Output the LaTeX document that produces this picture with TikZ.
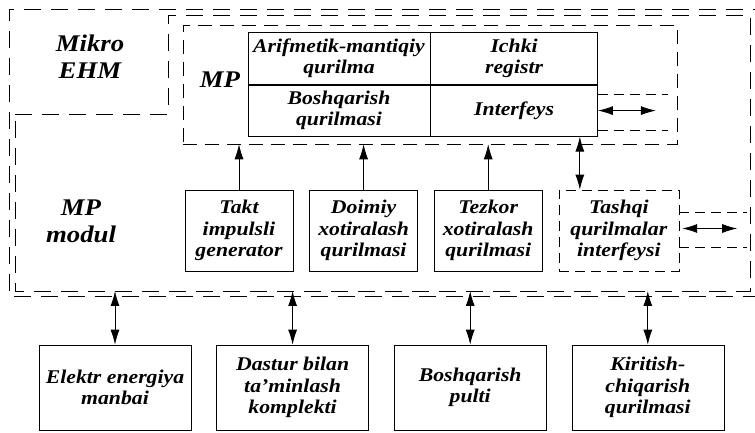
\documentclass[tikz,border=0pt]{standalone}
\usepackage{fontspec}
\setmainfont{Liberation Serif}[FakeStretch=1.12]
\usetikzlibrary{arrows.meta, positioning}

\newcommand{\boxfont}{\fontsize{19.5}{21.5}\selectfont\bfseries\itshape}
\newcommand{\lblfont}{\fontsize{24}{27}\selectfont\bfseries\itshape}

\begin{document}
\begin{tikzpicture}[
    x=1bp, y=-1bp,
    node distance=16bp and 16bp,
    box/.style={draw, line width=0.6pt, minimum width=108bp, minimum height=81bp, inner sep=1bp, align=center, font=\boxfont},
    cell/.style={draw, line width=0.6pt, minimum height=51.5bp, inner sep=1bp, align=center, font=\boxfont},
    ext/.style={box, minimum width=152bp, minimum height=85bp},
    lbl/.style={align=center, font=\lblfont, inner sep=0pt},
    dline/.style={line width=0.75pt, dash pattern=on 17bp off 10bp},
    sline/.style={line width=0.7pt, dash pattern=on 10bp off 6bp},
    arrow/.style={-{Latex[length=15bp, width=9bp]}, line width=0.7pt},
    darrow/.style={{Latex[length=15bp, width=9bp]}-{Latex[length=15bp, width=9bp]}, line width=0.9pt}
]
    \useasboundingbox (0,0) rectangle (755,433);

    % Mikro EHM and MP modul outlines
    \draw[dline] (770,9) -- (9,9) -- (9,296) -- (770,296);
    \draw[dline] (15,114) -- (168,114) -- (168,15) -- (750,15) -- (750,291) -- (15,291) -- cycle;
    \coordinate (modbot) at (0,291);

    \node[lbl] (mikro) at (90,57) {Mikro\\EHM};
    \node[lbl] (mpmod) at (81,221) {MP\\modul};

    % MP
    \node[draw, sline, dash pattern=on 14bp off 8bp, minimum width=494bp, minimum height=119bp] (mp) at (430,84.5) {};
    \node[lbl] (mplbl) at (220,80) {MP};
    \node[cell, minimum width=182bp] (alu) at (339,58.5) {Arifmetik-mantiqiy\\qurilma};
    \node[cell, minimum width=167bp, right=0bp of alu] (reg) {Ichki\\registr};
    \node[cell, minimum width=182bp, below=0bp of alu] (ctrl) {Boshqarish\\qurilmasi};
    \node[cell, minimum width=167bp, below=0bp of reg] (intf) {Interfeys};

    \draw[sline] ([yshift=-10bp]intf.north east) -- ++(70,0);
    \draw[sline] ([yshift=6bp]intf.south east) -- ++(70,0);
    \draw[darrow] (intf.east) -- ++(58,0);

    % MP modul ichidagi bloklar
    \node[box] (takt) at (239,230.5) {Takt\\impulsli\\generator};
    \node[box, right=of takt] (doimiy) {Doimiy\\xotiralash\\qurilmasi};
    \node[box, right=of doimiy] (tezkor) {Tezkor\\xotiralash\\qurilmasi};
    \node[box, sline, minimum width=120bp, right=of tezkor] (tashqi) {Tashqi\\qurilmalar\\interfeysi};

    \draw[sline] ([yshift=18bp]tashqi.east) -- ++(68,0);
    \draw[sline] ([yshift=-17bp]tashqi.east) -- ++(68,0);
    \draw[darrow] ([xshift=3bp,yshift=2bp]tashqi.east) -- ++(55,0);

    \draw[arrow] (takt) -- (takt.north |- mp.south);
    \draw[arrow] (doimiy) -- (doimiy.north |- mp.south);
    \draw[arrow] (tezkor) -- (tezkor.north |- mp.south);
    \draw[darrow] ([xshift=-39bp]tashqi.north) -- ([xshift=-39bp]tashqi.north |- intf.south);

    % tashqi qurilmalar
    \node[ext] (elektr) at (115,387.5) {Elektr energiya\\manbai};
    \node[ext, right=25bp of elektr] (dastur) {Dastur bilan\\ta'minlash\\komplekti};
    \node[ext, right=25bp of dastur] (pult) {Boshqarish\\pulti};
    \node[ext, right=25bp of pult] (kirit) {Kiritish-\\chiqarish\\qurilmasi};

    \draw[darrow] (elektr.north) -- (elektr.north |- modbot);
    \draw[darrow] (dastur.north) -- (dastur.north |- modbot);
    \draw[darrow] (pult.north) -- (pult.north |- modbot);
    \draw[darrow] (kirit.north) -- (kirit.north |- modbot);
\end{tikzpicture}
\end{document}
